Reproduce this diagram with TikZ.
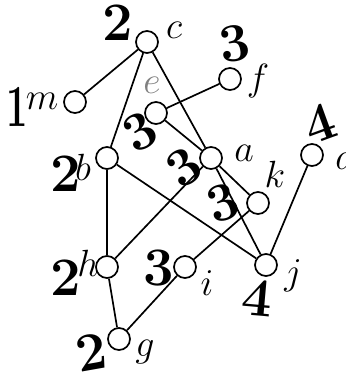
\documentclass[tikz,border=0pt]{standalone}
\usepackage{amssymb, amsmath}
\usepackage{graphicx}
\usepackage{tikz}
\usetikzlibrary{calc}

\newcommand{\vname}[1]{\scalebox{1.3}{\huge$#1$}}
\newcommand{\hwnum}[1]{\scalebox{1.55}{\Huge\bfseries #1}}

\begin{document}
\begin{tikzpicture}[x=0.025cm, y=-0.025cm,
    vtx/.style={circle, draw, line width=1.2pt, minimum size=0.55cm, inner sep=0pt, fill=white},
    lbl/.style={inner sep=0pt},
    hw/.style={inner sep=0pt},
    edge/.style={line width=1.2pt}]
    \useasboundingbox (0,0) rectangle (346,381);

    % --- vertices ---
    \node[vtx] (c) at (147,42) {};
    \node[vtx] (f) at (230,79) {};
    \node[vtx] (m) at (75,102) {};
    \node[vtx] (e) at (156,113) {};
    \node[vtx] (b) at (107,158) {};
    \node[vtx] (a) at (211,158) {};
    \node[vtx] (d) at (312,155) {};
    \node[vtx] (k) at (258,203) {};
    \node[vtx] (h) at (107,267) {};
    \node[vtx] (i) at (185,267) {};
    \node[vtx] (j) at (266,265) {};
    \node[vtx] (g) at (119,339) {};

    % --- edges ---
    \foreach \u/\v in {c/m, c/b, c/a, e/f, e/a, a/k, a/j, b/h, b/j, h/a, h/g, g/i, i/k, d/j}
        \draw[edge] (\u) -- (\v);

    % --- vertex names ---
    \node[lbl] (lc) at (174,30) {\vname{c}};
    \node[lbl] (lf) at (258,81) {\vname{f}};
    \node[lbl] (lm) at (42,101) {\vname{m}};
    \node[lbl, gray] (le) at (152,85) {\vname{e}};
    \node[lbl] (lb) at (83,167) {\vname{b}};
    \node[lbl] (la) at (244,153) {\vname{a}};
    \node[lbl] (ld) at (345,156) {\vname{d}};
    \node[lbl] (lk) at (275,174) {\vname{k}};
    \node[lbl] (lh) at (88,263) {\vname{h}};
    \node[lbl] (li) at (207,283) {\vname{i}};
    \node[lbl] (lj) at (293,276) {\vname{j}};
    \node[lbl] (lg) at (145,352) {\vname{g}};

    % --- handwritten numbers ---
    \node[hw] (nc) at (118,23) {\hwnum{2}};
    \node[hw, rotate=10] (nf) at (234,44) {\hwnum{3}};
    \node[hw, xscale=0.7, yscale=1.1] (nm) at (17,107) {\hwnum{1}};
    \node[hw, rotate=30] (ne) at (140,132) {\hwnum{3}};
    \node[hw, rotate=35] (na) at (184,167) {\hwnum{3}};
    \node[hw, rotate=20] (nk) at (223,203) {\hwnum{3}};
    \node[hw, rotate=20] (nd) at (320,124) {\hwnum{4}};
    \node[hw] (nb) at (66,174) {\hwnum{2}};
    \node[hw] (nh) at (66,278) {\hwnum{2}};
    \node[hw] (ni) at (159,268) {\hwnum{3}};
    \node[hw, rotate=-5] (nj) at (257,298) {\hwnum{4}};
    \node[hw, rotate=10] (ng) at (91,352) {\hwnum{2}};
\end{tikzpicture}
\end{document}
